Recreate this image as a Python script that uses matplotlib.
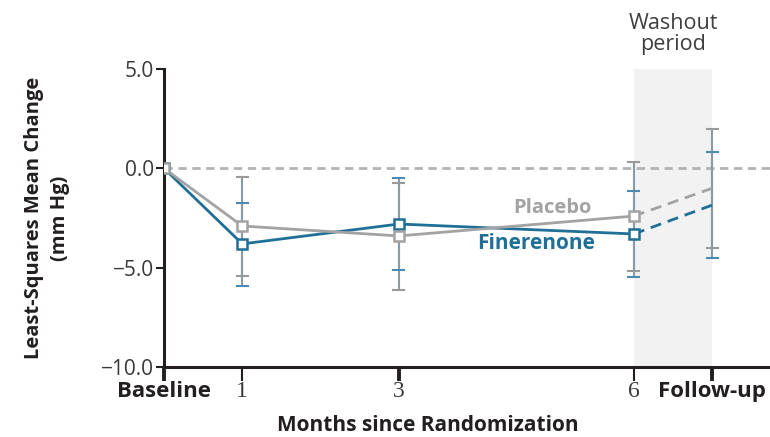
import matplotlib
matplotlib.use("Agg")
import matplotlib.pyplot as plt
import numpy as np

# ---- data ----
x_labels = ["Baseline", "1", "3", "6", "Follow-up"]
x_pos = [0, 1, 3, 6, 7]

placebo_mean = [0.0, -2.9, -3.4, -2.4, -1.0]
placebo_lo = [0.0, -5.4, -6.1, -5.15, -4.0]
placebo_hi = [0.0, -0.45, -0.75, 0.3, 2.0]

finer_mean = [0.0, -3.8, -2.8, -3.3, -1.85]
finer_lo = [0.0, -5.9, -5.1, -5.45, -4.5]
finer_hi = [0.0, -1.75, -0.5, -1.15, 0.8]

y_ticks = [5.0, 0.0, -5.0, -10.0]
y_tick_labels = ["5.0", "0.0", "\u22125.0", "\u221210.0"]

BLUE = "#1f6f97"
GRAY = "#a3a3a3"
ERR = "#8b9aa7"
BLUE_CAP = "#4a8ab3"
DARK = "#231f20"

plt.rcParams["font.family"] = ["Open Sans", "DejaVu Sans"]

fig = plt.figure(figsize=(7.7, 4.37), dpi=100)
ax = fig.add_axes([0.213, 0.160, 0.787, 0.682])
ax.set_xlim(0, 7.74)
ax.set_ylim(-10, 5)

# washout shading
ax.axvspan(x_pos[3], x_pos[4], color="#f2f2f2", zorder=0, lw=0)

# zero reference
ax.axhline(0, color="#b3b3b3", lw=2, ls=(0, (3, 2)), zorder=1)

# error bars
def draw_err(xs, mean, lo, hi, capcol, z):
    for xi, m, l, h in zip(xs, mean, lo, hi):
        if l == h:
            continue
        ax.plot([xi, xi], [l, h], color=ERR, lw=1.5, zorder=z, solid_capstyle="butt")
        ax.plot([xi - 0.07, xi + 0.07], [l, l], color=capcol, lw=1.5, zorder=z)
        ax.plot([xi - 0.07, xi + 0.07], [h, h], color=capcol, lw=1.5, zorder=z)

draw_err(x_pos[1:], placebo_mean[1:], placebo_lo[1:], placebo_hi[1:], "#9a9a9a", 2)
draw_err(x_pos[1:], finer_mean[1:], finer_lo[1:], finer_hi[1:], BLUE_CAP, 2)

# lines solid through month 6, dashed to follow-up
ax.plot(x_pos[:4], finer_mean[:4], color=BLUE, lw=2, zorder=3)
ax.plot(x_pos[:4], placebo_mean[:4], color=GRAY, lw=2, zorder=4)
ax.plot(x_pos[3:], finer_mean[3:], color=BLUE, lw=2, ls=(0, (4, 2.5)), zorder=3)
ax.plot(x_pos[3:], placebo_mean[3:], color=GRAY, lw=2, ls=(0, (4, 2.5)), zorder=4)

ax.plot(x_pos[:4], finer_mean[:4], ls="none", marker="s", ms=7.5, mfc="white",
        mec=BLUE, mew=1.8, zorder=5)
ax.plot(x_pos[:4], placebo_mean[:4], ls="none", marker="s", ms=7.5, mfc="white",
        mec=GRAY, mew=1.8, zorder=6)

# labels for series
ax.text(5.46, -1.97, "Placebo", color=GRAY, fontsize=14.5, fontweight="bold",
        ha="right", va="center", zorder=7)
ax.text(5.51, -3.79, "Finerenone", color=BLUE, fontsize=15, fontweight="bold",
        ha="right", va="center", zorder=7)

ax.text(6.5, 6.75, "Washout\nperiod", color="#3f3f3f", fontsize=15.5, ha="center",
        va="center", linespacing=1.0, clip_on=False)

# axes styling
for s in ["top", "right"]:
    ax.spines[s].set_visible(False)
for s in ["left", "bottom"]:
    ax.spines[s].set_linewidth(2.2)
    ax.spines[s].set_color(DARK)

ax.set_yticks(y_ticks)
ax.set_yticklabels(y_tick_labels, fontsize=15, color="#3a3a3a")
ax.tick_params(axis="y", direction="out", length=6, width=1.5, color=DARK, pad=1)

ax.set_xticks(x_pos)
ax.set_xticklabels(x_labels, fontsize=16)
ax.tick_params(axis="x", direction="out", length=10, width=1.5, color=DARK, pad=0)
for i, (t, lab) in enumerate(zip(ax.xaxis.get_major_ticks(), ax.get_xticklabels())):
    if x_labels[i] in ("Baseline", "Follow-up"):
        lab.set_fontweight("bold")
        lab.set_color(DARK)
        t.tick1line.set_markeredgewidth(2.8)
    else:
        lab.set_family(["Liberation Serif", "DejaVu Serif"])
        lab.set_fontsize(17)
        lab.set_color("#3a3a3a")
        t.tick1line.set_markeredgewidth(1.5 if x_labels[i] != "3" else 2.8)

fig.text(0.556, 0.002, "Months since Randomization", fontsize=15, fontweight="bold",
         color=DARK, ha="center", va="bottom")
ax.set_ylabel("Least-Squares Mean Change\n(mm Hg)", fontsize=14.5, fontweight="bold",
              color=DARK, linespacing=1.4)
ax.yaxis.set_label_coords(-0.155, 0.5)

fig.savefig("out.png", dpi=100)
